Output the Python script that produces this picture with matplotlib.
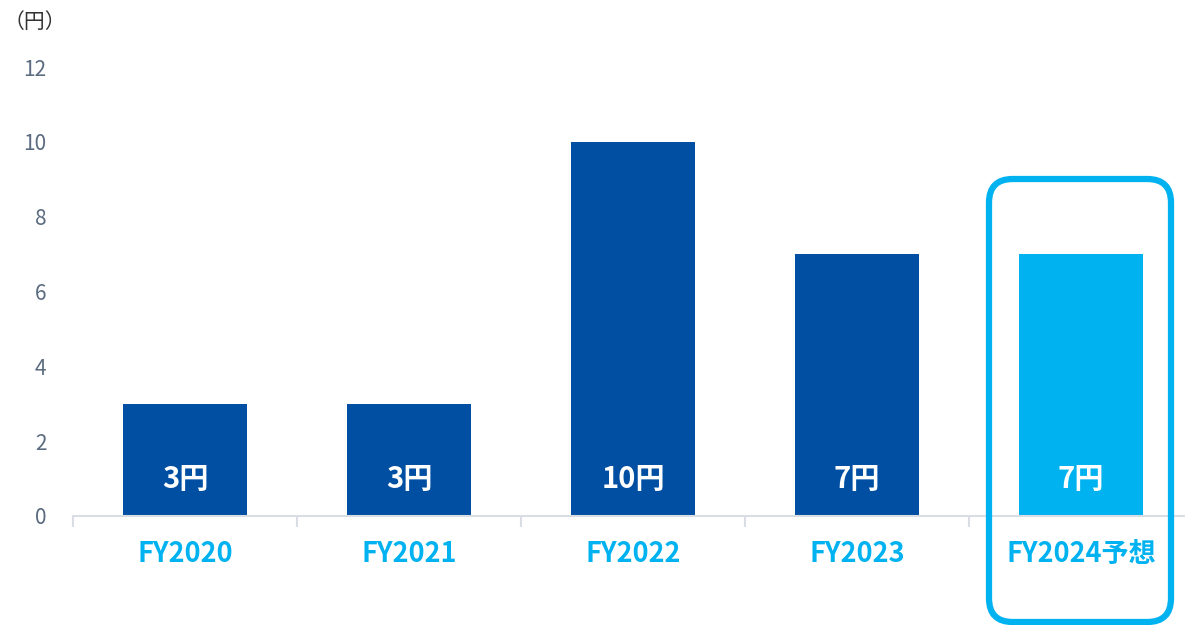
import matplotlib
matplotlib.use('Agg')
import matplotlib.pyplot as plt
from matplotlib.patches import FancyBboxPatch

plt.rcParams['font.family'] = ['Noto Sans CJK JP', 'DejaVu Sans']

categories = ['FY2020', 'FY2021', 'FY2022', 'FY2023', 'FY2024予想']
values = [3, 3, 10, 7, 7]
bar_labels = ['3円', '3円', '10円', '7円', '7円']
yticks = [0, 2, 4, 6, 8, 10, 12]

dark = '#004fa2'
light = '#00b2f0'
colors = [dark, dark, dark, dark, light]

W, H = 1185, 625
fig = plt.figure(figsize=(W / 100, H / 100), dpi=100)
ax = fig.add_axes([73 / W, (H - 516) / H, (W - 73) / W, 449 / H])

x = list(range(len(categories)))
ax.bar(x, values, width=0.555, color=colors, zorder=2)
for xi, lab in zip(x, bar_labels):
    ax.text(xi, 1.0, lab, ha='center', va='center', color='white',
            fontsize=21, fontweight='bold')

ax.set_yticks(yticks)
ax.set_yticklabels([str(v) for v in yticks], color='#5b6b80', fontsize=15)
ax.tick_params(axis='y', length=0, pad=19)

ax.set_xticks(x)
ax.set_xticklabels(categories, color=light, fontsize=19.5, fontweight='bold')
ax.tick_params(axis='x', which='major', length=0, pad=17)
ax.set_xticks([i - 0.5 for i in range(len(categories) + 1)], minor=True)
ax.tick_params(axis='x', which='minor', length=8, color='#d9dde4', width=1.5)

# limits after ticks so set_xticks does not widen them
ax.set_xlim(-0.5, -0.5 + (W - 73) / 224)
ax.set_ylim(0, 12)

for s in ['top', 'right', 'left']:
    ax.spines[s].set_visible(False)
ax.spines['bottom'].set_color('#d9dde4')
ax.spines['bottom'].set_linewidth(1.5)

fig.text(4 / W, 1 - 22 / H, '（円）', fontsize=15, color='#333333',
         ha='left', va='center')

# highlight box around the forecast column
box = FancyBboxPatch((989 / W, 3 / H), 182 / W, 443 / H,
                     boxstyle='round,pad=0,rounding_size=0.02',
                     transform=fig.transFigure, fill=False,
                     edgecolor=light, linewidth=4.5, clip_on=False,
                     mutation_aspect=W / H)
fig.patches.append(box)

fig.savefig('out.png', dpi=100)
